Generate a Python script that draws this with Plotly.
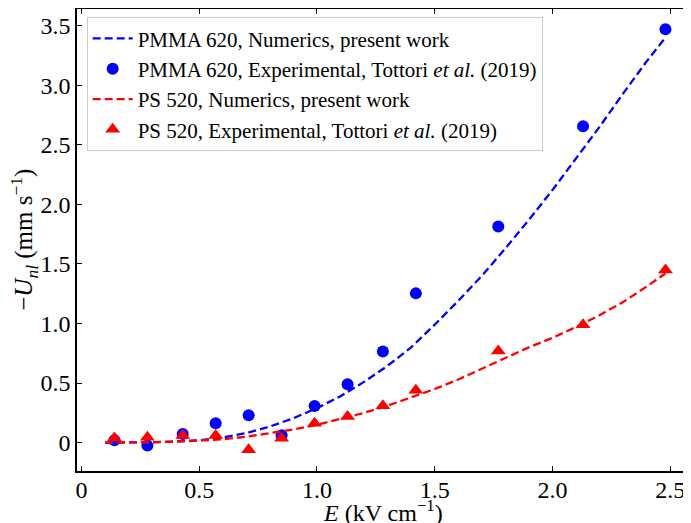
import plotly.graph_objects as go

# Experimental data (Tottori et al. 2019)
E_exp = [0.14, 0.28, 0.43, 0.57, 0.71, 0.85, 0.99, 1.13, 1.28, 1.42, 1.77, 2.13, 2.48]
pmma_exp = [0.02, -0.025, 0.073, 0.163, 0.23, 0.062, 0.308, 0.49, 0.765, 1.253, 1.815, 2.655, 3.47]
ps_exp = [0.04, 0.045, 0.06, 0.06, -0.06, 0.037, 0.163, 0.22, 0.31, 0.44, 0.77, 0.99, 1.45]

# Numerics, present work
E_num = [0.1, 0.2, 0.3, 0.4, 0.5, 0.6, 0.7, 0.8, 0.9, 1.0, 1.1, 1.2, 1.3, 1.4,
         1.5, 1.6, 1.7, 1.8, 1.9, 2.0, 2.1, 2.2, 2.3, 2.4, 2.48]
pmma_num = [0.0, 0.0, 0.004, 0.01, 0.02, 0.042, 0.08, 0.135, 0.205, 0.29, 0.39,
            0.51, 0.645, 0.80, 0.99, 1.19, 1.40, 1.63, 1.87, 2.12, 2.38, 2.65,
            2.93, 3.20, 3.40]
ps_num = [0.0, 0.0, 0.003, 0.008, 0.015, 0.028, 0.05, 0.08, 0.11, 0.15, 0.20,
          0.25, 0.31, 0.38, 0.45, 0.53, 0.62, 0.71, 0.80, 0.88, 0.97, 1.07,
          1.18, 1.31, 1.42]

x_ticks = [0, 0.5, 1.0, 1.5, 2.0, 2.5]
x_ticktext = ["0", "0.5", "1.0", "1.5", "2.0", "2.5"]
y_ticks = [0, 0.5, 1.0, 1.5, 2.0, 2.5, 3.0, 3.5]
y_ticktext = ["0", "0.5", "1.0", "1.5", "2.0", "2.5", "3.0", "3.5"]

FONT = "Liberation Serif"

fig = go.Figure()
fig.add_trace(go.Scatter(
    x=E_num, y=pmma_num, mode="lines",
    line=dict(color="#0000ff", width=2.3, dash="8px,4px"),
    name="PMMA 620, Numerics, present work"))
fig.add_trace(go.Scatter(
    x=E_exp, y=pmma_exp, mode="markers",
    marker=dict(color="#0000ff", size=12, symbol="circle"),
    name="PMMA 620, Experimental, Tottori <i>et al.</i> (2019)"))
fig.add_trace(go.Scatter(
    x=E_num, y=ps_num, mode="lines",
    line=dict(color="#ff0000", width=2.3, dash="8px,4px"),
    name="PS 520, Numerics, present work"))
fig.add_trace(go.Scatter(
    x=E_exp, y=ps_exp, mode="markers",
    marker=dict(color="#ff0000", size=13, symbol="triangle-up"),
    name="PS 520, Experimental, Tottori <i>et al.</i> (2019)"))

axis_common = dict(
    showgrid=False, zeroline=False, showline=True, linecolor="black",
    linewidth=1.5, mirror="ticks", ticks="inside", ticklen=5, tickwidth=1.2,
    tickcolor="black", tickfont=dict(family=FONT, size=24, color="black"),
    automargin=False,
)

fig.update_layout(
    width=691, height=523,
    margin=dict(l=69, r=10, t=1, b=60),
    paper_bgcolor="white", plot_bgcolor="white",
    font=dict(family=FONT, color="black"),
    showlegend=True,
    legend=dict(
        x=0.0158, y=0.982, xanchor="left", yanchor="top",
        bgcolor="white", bordercolor="#cccccc", borderwidth=1,
        font=dict(family=FONT, size=21, color="black"),
        tracegroupgap=0, itemwidth=40,
    ),
    xaxis=dict(range=[-0.019, 2.58], tickvals=x_ticks, ticktext=x_ticktext,
               ticklabelstandoff=-4, **axis_common),
    yaxis=dict(range=[-0.238, 3.64], tickvals=y_ticks, ticktext=y_ticktext,
               ticklabelstandoff=0, **axis_common),
    annotations=[
        dict(text="<i>E</i> (kV cm<sup>−1</sup>)", xref="paper", yref="paper",
             x=0.5, y=-0.124, xanchor="center", yanchor="bottom",
             showarrow=False, font=dict(family=FONT, size=24, color="black")),
        dict(text="−<i>U<sub>nl</sub></i> (mm s<sup>−1</sup>)", xref="paper",
             yref="paper", x=-0.087, y=0.5, xanchor="center", yanchor="middle",
             textangle=-90, showarrow=False,
             font=dict(family=FONT, size=25, color="black")),
    ],
)

fig.write_html("out.html")
